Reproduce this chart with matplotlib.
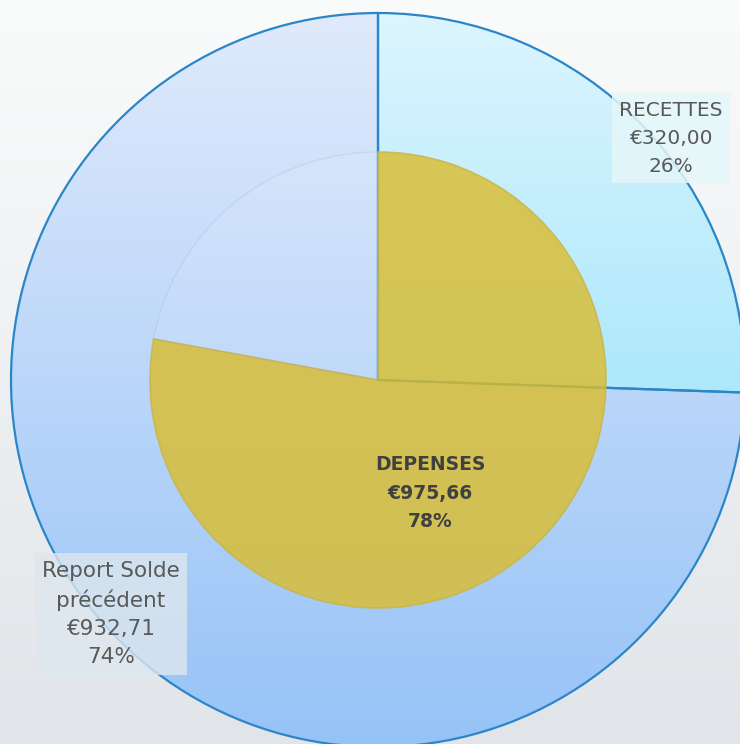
import numpy as np
import matplotlib
matplotlib.use("Agg")
import matplotlib.pyplot as plt
from matplotlib.colors import LinearSegmentedColormap

# Data
outer_labels = ["RECETTES", "Report Solde\nprécédent"]
outer_values = [320.00, 932.71]
outer_pct = ["26%", "74%"]
inner_labels = ["DEPENSES", ""]
inner_values = [975.66, 1252.71 - 975.66]
inner_pct = ["78%", ""]

def euro(v):
    s = f"{v:,.2f}".replace(",", " ").replace(".", ",")
    return "€" + s

W, H = 740, 744
fig = plt.figure(figsize=(W / 100, H / 100), dpi=100)
ax = fig.add_axes([0, 0, 1, 1])

# background gradient
bg = LinearSegmentedColormap.from_list("bg", ["#e1e5e9", "#fafbfb"])
grad = np.linspace(0, 1, 256).reshape(-1, 1)
ax.imshow(grad, extent=(0, W, 0, H), origin="lower", cmap=bg, aspect="auto", zorder=0)

cx, cy = 378, H - 380
R_out, R_in = 367, 228

wedges_out, _ = ax.pie(outer_values, center=(cx, cy), radius=R_out, startangle=90,
                       counterclock=False, frame=True,
                       wedgeprops=dict(edgecolor="#2a86c8", linewidth=1.6, facecolor="none"))
grads_out = [["#80dcf9", "#dcf5fe"], ["#96c3f7", "#e0eafc"]]
for w, cols in zip(wedges_out, grads_out):
    w.set_zorder(3)
    cm = LinearSegmentedColormap.from_list("g", cols)
    im = ax.imshow(grad, extent=(cx - R_out, cx + R_out, cy - R_out, cy + R_out),
                   origin="lower", cmap=cm, aspect="auto", zorder=2)
    im.set_clip_path(w)

wedges_in, _ = ax.pie(inner_values, center=(cx, cy), radius=R_in, startangle=90,
                      counterclock=False, frame=True,
                      wedgeprops=dict(linewidth=0))
wedges_in[0].set_facecolor("#dabd30")
wedges_in[0].set_alpha(0.82)
wedges_in[0].set_edgecolor("#c9b548")
wedges_in[0].set_linewidth(1.2)
wedges_in[0].set_zorder(4)
wedges_in[1].set_facecolor((1, 1, 1, 0.08))
wedges_in[1].set_edgecolor((0.6, 0.65, 0.7, 0.2))
wedges_in[1].set_linewidth(1.0)
wedges_in[1].set_zorder(4)

ax.set_xlim(0, W)
ax.set_ylim(0, H)
ax.set_aspect("auto")
ax.axis("off")

font = ["DejaVu Sans"]
# RECETTES label
ax.text(671, H - 138, f"{outer_labels[0]}\n{euro(outer_values[0])}\n{outer_pct[0]}",
        ha="center", va="center", fontsize=14.5, color="#595959", family=font,
        linespacing=1.6, zorder=6,
        bbox=dict(boxstyle="square,pad=0.35", facecolor="#e4f7fa", edgecolor="none", alpha=0.85))
# Report label
ax.text(111, H - 614, f"{outer_labels[1]}\n{euro(outer_values[1])}\n{outer_pct[1]}",
        ha="center", va="center", fontsize=15.5, color="#595959", family=font,
        linespacing=1.5, zorder=6,
        bbox=dict(boxstyle="square,pad=0.35", facecolor="#dde7ee", edgecolor="none", alpha=0.8))
# DEPENSES label
ax.text(430, H - 493, f"{inner_labels[0]}\n{euro(inner_values[0])}\n{inner_pct[0]}",
        ha="center", va="center", fontsize=13.5, color="#404040", family=font,
        fontweight="bold", linespacing=1.65, zorder=6)

fig.savefig("out.png", dpi=100)
